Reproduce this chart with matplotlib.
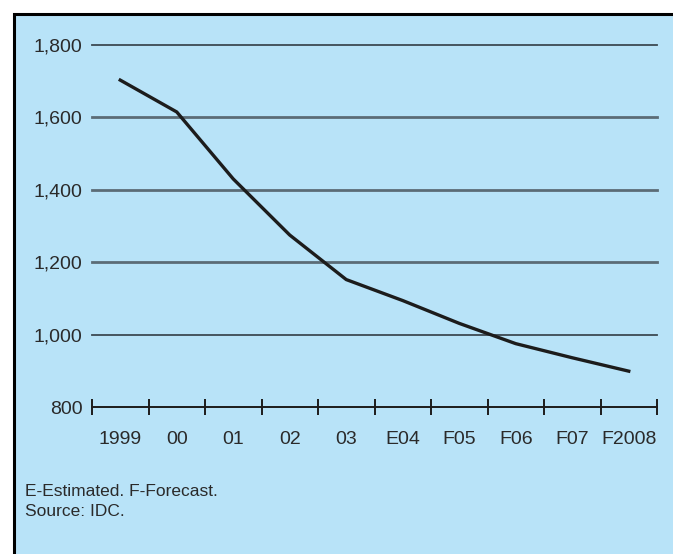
import matplotlib
matplotlib.use("Agg")
import matplotlib.pyplot as plt
from matplotlib.patches import Rectangle

# data
years = ["1999", "00", "01", "02", "03", "E04", "F05", "F06", "F07", "F2008"]
values = [1703, 1615, 1430, 1275, 1152, 1094, 1031, 975, 936, 899]
gridlines = [1000, 1200, 1400, 1600, 1800]
yticks = [800, 1000, 1200, 1400, 1600, 1800]
footnote = "E-Estimated. F-Forecast.\nSource: IDC."

BLUE = "#b8e3f8"
plt.rcParams["font.family"] = ["Liberation Sans", "DejaVu Sans"]

W, H = 673, 554
fig = plt.figure(figsize=(W / 100, H / 100), dpi=100, facecolor="white")

# blue panel with a black frame (right/bottom edges cropped off)
x0, y0 = 13.5 / W, 1 - 13.5 / H
fig.patches.append(Rectangle((x0, -0.1), 1.2, y0 + 0.1, transform=fig.transFigure,
                             facecolor=BLUE, edgecolor="black", linewidth=2.2, zorder=-5))

ax = fig.add_axes([92 / W, 1 - 407 / H, (657 - 92) / W, (407 - 45) / H])
ax.set_zorder(2)
ax.set_facecolor("none")
x = list(range(len(years)))

for g in gridlines:
    thick = g in (1200, 1400, 1600)
    ax.axhline(g, color="#5b6c76" if thick else "#3c4a52",
               lw=2.0 if thick else 1.3, clip_on=False, zorder=1)

ax.plot(x, values, color="#1c1c1c", lw=2.4, solid_joinstyle="round", zorder=3)

ax.set_xlim(-0.5, len(years) - 0.5)
ax.set_ylim(800, 1800)

for s in ("top", "right", "left"):
    ax.spines[s].set_visible(False)
ax.spines["bottom"].set_color("#1c1c1c")
ax.spines["bottom"].set_linewidth(1.4)

# boundary ticks between categories, labels centred under each category
ax.set_xticks([i - 0.5 for i in range(len(years) + 1)])
ax.set_xticklabels([])
ax.set_xticks(x, minor=True)
ax.set_xticklabels(years, minor=True, fontsize=14, color="#2a2a2a")
ax.tick_params(axis="x", which="major", direction="inout", length=12, width=1.4, color="#1c1c1c")
ax.tick_params(axis="x", which="minor", length=0, pad=17)

ax.set_yticks(yticks)
ax.set_yticklabels([f"{v:,}" for v in yticks], fontsize=14, color="#2a2a2a")
ax.tick_params(axis="y", length=0, pad=7)

fig.text(25 / W, 1 - 484 / H, footnote, fontsize=12.5, color="#2a2a2a",
         va="top", ha="left", linespacing=1.45)

fig.savefig("out.png", dpi=100, facecolor="white")
